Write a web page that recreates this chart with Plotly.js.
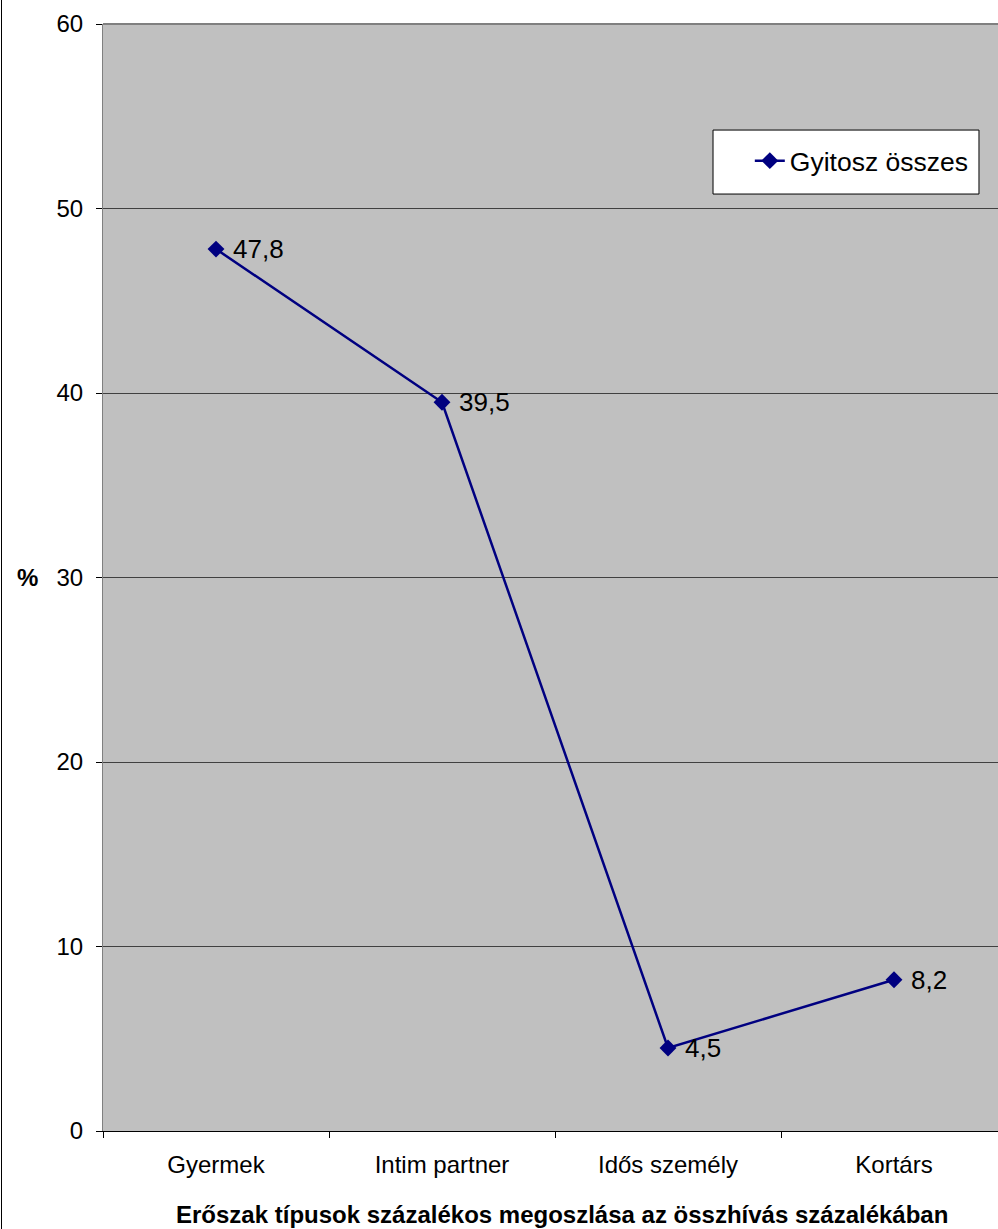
<!DOCTYPE html>
<html>
<head>
<meta charset="utf-8">
<script src="https://cdn.plot.ly/plotly-3.0.1.min.js"></script>
<style>
html, body { margin: 0; padding: 0; background: #fff; overflow: hidden; }
#wrap { position: relative; width: 998px; height: 1229px; overflow: hidden; }
#chart { width: 1010px; height: 1229px; }
#edge { position: absolute; left: 1px; top: 0; width: 1px; height: 1229px; background: #000; }
</style>
</head>
<body>
<div id="wrap"><div id="chart"></div><div id="edge"></div></div>
<script>
const categories = ["Gyermek", "Intim partner", "Idős személy", "Kortárs"];
const values = [47.8, 39.5, 4.5, 8.2];
const valueLabels = ["47,8", "39,5", "4,5", "8,2"];
const seriesName = "Gyitosz összes";
const yTicks = [0, 10, 20, 30, 40, 50, 60];
const xTitle = "Erőszak típusok százalékos megoszlása az összhívás százalékában";
const yTitle = "%";

const FONT = "Liberation Sans, Arial, sans-serif";

const trace = {
  type: "scatter",
  mode: "lines+markers",
  x: categories,
  y: values,
  name: seriesName,
  line: { color: "#000080", width: 2.5 },
  marker: { symbol: "diamond", size: 13, color: "#000080" },
  cliponaxis: false
};

const labelAnnotations = categories.map((c, i) => ({
  text: valueLabels[i], x: c, y: values[i], xref: "x", yref: "y",
  xanchor: "left", yanchor: "middle", xshift: 15, yshift: 0, showarrow: false,
  font: { family: FONT, size: 26, color: "#000" }
}));

const layout = {
  width: 1010,
  height: 1229,
  margin: { l: 103, r: 3, t: 24, b: 98 },
  paper_bgcolor: "#ffffff",
  plot_bgcolor: "#c0c0c0",
  font: { family: FONT, size: 24, color: "#000" },
  showlegend: true,
  legend: {
    x: 0.7155, y: 0.8763, xanchor: "left", yanchor: "middle",
    bgcolor: "rgba(0,0,0,0)", borderwidth: 0,
    font: { family: FONT, size: 26.5, color: "#000" }
  },
  xaxis: {
    type: "category",
    range: [-0.5, 3.5],
    tickson: "boundaries",
    ticks: "outside",
    ticklen: 6,
    tickcolor: "#000",
    showline: true,
    linecolor: "#000",
    linewidth: 1,
    showgrid: false,
    zeroline: false,
    ticklabelstandoff: 12,
    tickfont: { family: FONT, size: 24, color: "#000" },
    automargin: false
  },
  yaxis: {
    range: [0, 60],
    tickvals: yTicks,
    ticks: "outside",
    ticklen: 6,
    tickcolor: "#000",
    showline: true,
    linecolor: "#808080",
    linewidth: 1,
    showgrid: true,
    gridcolor: "#404040",
    gridwidth: 1,
    zeroline: false,
    ticklabelstandoff: 8,
    tickfont: { family: FONT, size: 24, color: "#000" },
    automargin: false
  },
  shapes: [
    { type: "line", xref: "paper", yref: "paper", x0: 0, x1: 1, y0: 1, y1: 1,
      line: { color: "#808080", width: 2 } },
    { type: "rect", xref: "paper", yref: "paper", x0: 0.6748, x1: 0.969, y0: 0.8464, y1: 0.9042,
      fillcolor: "#ffffff", line: { color: "#000", width: 1 }, layer: "above" }
  ],
  annotations: labelAnnotations.concat([
    { text: "<b>" + xTitle + "</b>", xref: "paper", yref: "paper", x: 0.5, y: 0,
      xanchor: "center", yanchor: "top", yshift: -68, xshift: 7, showarrow: false,
      font: { family: FONT, size: 24, color: "#000" } },
    { text: "<b>" + yTitle + "</b>", xref: "paper", yref: "y", x: 0, y: 30,
      xanchor: "center", yanchor: "middle", xshift: -76, showarrow: false,
      font: { family: FONT, size: 24, color: "#000" } }
  ])
};

Plotly.newPlot("chart", [trace], layout, { displayModeBar: false, staticPlot: true });
</script>
</body>
</html>
